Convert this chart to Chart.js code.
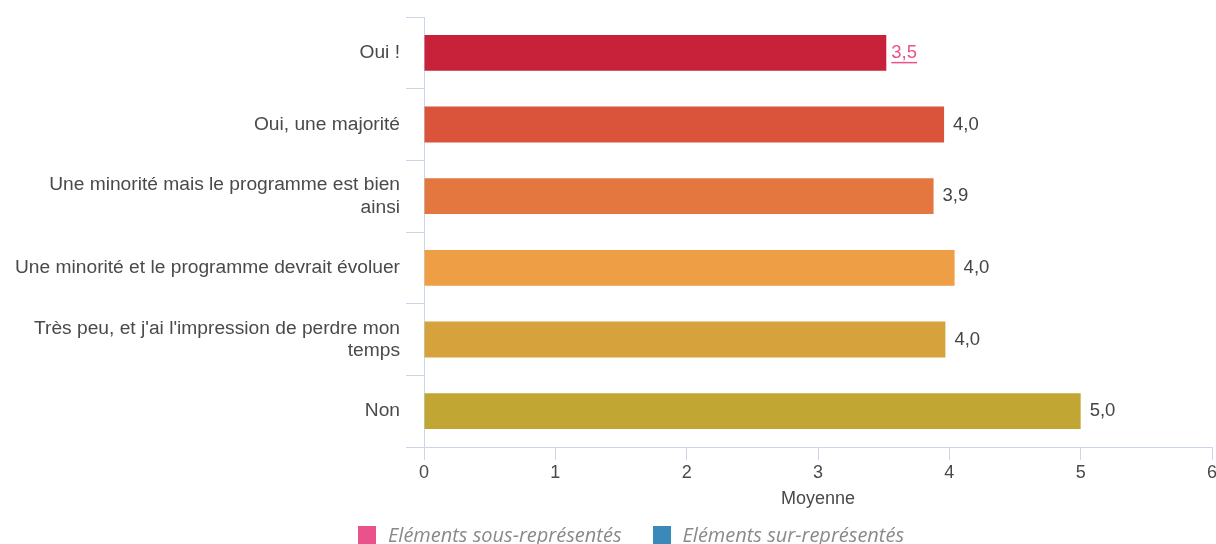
<!DOCTYPE html>
<html lang="fr">
<head>
<meta charset="utf-8">
<script src="https://cdn.jsdelivr.net/npm/chart.js@4.4.1/dist/chart.umd.min.js"></script>
<style>
    html, body { margin: 0; padding: 0; background: #fff; overflow: hidden; }
    #wrap { position: relative; width: 1216px; height: 544px; }
    #legend {
        position: absolute; left: 358px; top: 523px; white-space: nowrap;
        font-family: "Open Sans", sans-serif; font-style: italic; font-size: 20px; color: #8a8a8a;
    }
    #legend span.item { display: inline-flex; align-items: center; margin-right: 31px; line-height: 20px; }
    #legend i.box { display: inline-block; width: 18px; height: 18px; margin-right: 12px; }
</style>
</head>
<body>
<div id="wrap">
    <canvas id="chart" width="1216" height="544"></canvas>
    <div id="legend"></div>
</div>
<script>
// categories (multi-line labels as shown on the axis)
const categories = [
    'Oui !',
    'Oui, une majorité',
    ['Une minorité mais le programme est bien', 'ainsi'],
    'Une minorité et le programme devrait évoluer',
    ["Très peu, et j'ai l'impression de perdre mon", 'temps'],
    'Non'
];
const moyennes   = [3.52, 3.96, 3.88, 4.04, 3.97, 5.0];
const xTicks     = [0, 1, 2, 3, 4, 5, 6];
const underRep   = [true, false, false, false, false, false];
const legendText = ['Eléments sous-représentés', 'Eléments sur-représentés'];

const barColors    = ['#c8213a', '#d9543b', '#e4763f', '#ee9e44', '#d5a23b', '#c2a634'];
const legendColors = ['#e9528b', '#3a8ab9'];
const axisColor    = '#ccd6eb';
const FONT = '"Liberation Sans", Arial, sans-serif';

// value labels at bar ends
const valueLabels = {
    id: 'valueLabels',
    afterDatasetsDraw(chart) {
        const ctx = chart.ctx;
        const meta = chart.getDatasetMeta(0);
        ctx.save();
        ctx.font = '18.5px ' + FONT;
        ctx.textBaseline = 'middle';
        meta.data.forEach(function (bar, i) {
            const txt = moyennes[i].toFixed(1).replace('.', ',');
            const x = bar.x + (underRep[i] ? 5 : 9);
            ctx.fillStyle = underRep[i] ? '#e9528b' : '#444444';
            ctx.fillText(txt, x, bar.y);
            if (underRep[i]) {
                const w = ctx.measureText(txt).width;
                ctx.fillRect(x, bar.y + 9, w, 1.5);
            }
        });
        ctx.restore();
    }
};

new Chart(document.getElementById('chart'), {
    type: 'bar',
    data: {
        labels: categories,
        datasets: [{
            label: 'Moyenne',
            data: moyennes,
            backgroundColor: barColors,
            borderWidth: 0,
            barPercentage: 0.5,
            categoryPercentage: 1
        }]
    },
    options: {
        indexAxis: 'y',
        responsive: false,
        animation: false,
        layout: { padding: { top: 15, right: 0, bottom: 22, left: 0 } },
        plugins: { legend: { display: false }, tooltip: { enabled: false } },
        scales: {
            x: {
                min: 0, max: 6,
                afterBuildTicks: function (scale) { scale.ticks = xTicks.map(v => ({ value: v })); },
                afterFit: function (scale) { scale.height = 75; scale.paddingRight = 4; },
                border: { color: axisColor, width: 1 },
                grid: { drawOnChartArea: false, drawTicks: true, tickLength: 13, color: axisColor },
                ticks: { padding: 2, color: '#4a4a4a', font: { family: FONT, size: 18 } },
                title: {
                    display: true, text: 'Moyenne', color: '#4a4a4a',
                    font: { family: FONT, size: 18 }, padding: { top: 4, bottom: 12 }
                }
            },
            y: {
                afterFit: function (scale) { scale.width = 424; },
                border: { color: axisColor, width: 1 },
                grid: { offset: true, drawOnChartArea: false, drawTicks: true, tickLength: 18, color: axisColor },
                ticks: { padding: 6, color: '#4a4a4a', font: { family: FONT, size: 19.2, lineHeight: 1.15 } }
            }
        }
    },
    plugins: [valueLabels]
});

// HTML legend
document.getElementById('legend').innerHTML = legendText.map(function (t, i) {
    return '<span class="item"><i class="box" style="background:' + legendColors[i] + '"></i>' + t + '</span>';
}).join('');
</script>
</body>
</html>
